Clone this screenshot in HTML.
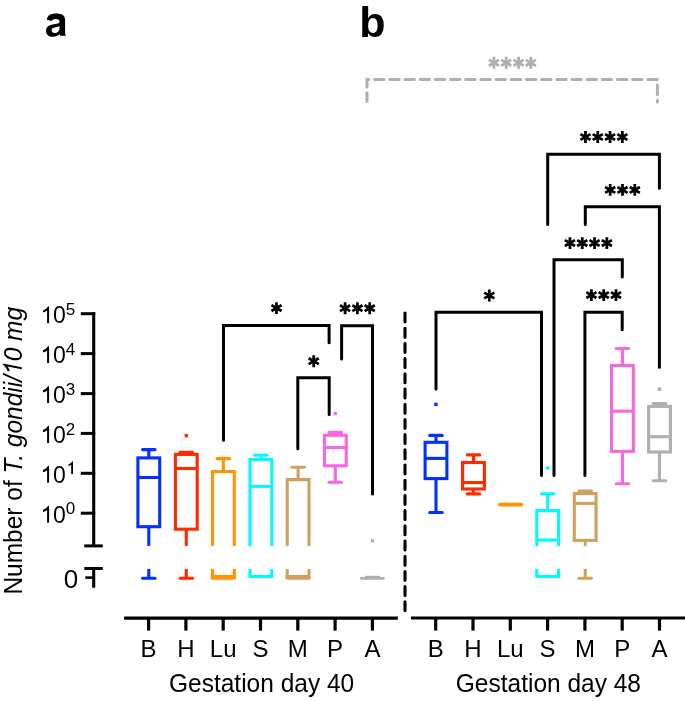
<!DOCTYPE html>
<html><head><meta charset="utf-8"><style>
html,body{margin:0;padding:0;background:#fff;}
svg{display:block;will-change:transform;font-family:"Liberation Sans",sans-serif;}
</style></head><body>
<svg width="685" height="701" viewBox="0 0 685 701">
<rect width="685" height="701" fill="#fff"/>
<line x1="93.7" y1="312.2" x2="93.7" y2="545.9" stroke="#000" stroke-width="3.1" stroke-linecap="butt"/>
<line x1="80.8" y1="313.7" x2="95.2" y2="313.7" stroke="#000" stroke-width="3.0" stroke-linecap="butt"/>
<line x1="80.8" y1="353.6" x2="95.2" y2="353.6" stroke="#000" stroke-width="3.0" stroke-linecap="butt"/>
<line x1="80.8" y1="393.6" x2="95.2" y2="393.6" stroke="#000" stroke-width="3.0" stroke-linecap="butt"/>
<line x1="80.8" y1="433.4" x2="95.2" y2="433.4" stroke="#000" stroke-width="3.0" stroke-linecap="butt"/>
<line x1="80.8" y1="473.3" x2="95.2" y2="473.3" stroke="#000" stroke-width="3.0" stroke-linecap="butt"/>
<line x1="80.8" y1="513.2" x2="95.2" y2="513.2" stroke="#000" stroke-width="3.0" stroke-linecap="butt"/>
<line x1="84.3" y1="545.9" x2="102.8" y2="545.9" stroke="#000" stroke-width="3.0" stroke-linecap="butt"/>
<line x1="84.3" y1="568.5" x2="102.8" y2="568.5" stroke="#000" stroke-width="3.0" stroke-linecap="butt"/>
<line x1="93.7" y1="568.5" x2="93.7" y2="587.7" stroke="#000" stroke-width="3.1" stroke-linecap="butt"/>
<line x1="85.3" y1="577.6" x2="93.7" y2="577.6" stroke="#000" stroke-width="2.6" stroke-linecap="butt"/>
<line x1="124.1" y1="618.1" x2="397.8" y2="618.1" stroke="#000" stroke-width="3.1" stroke-linecap="butt"/>
<line x1="411" y1="618.0" x2="685" y2="618.0" stroke="#000" stroke-width="3.1" stroke-linecap="butt"/>
<line x1="148.6" y1="618" x2="148.6" y2="630.6" stroke="#000" stroke-width="3.2" stroke-linecap="butt"/>
<line x1="185.9" y1="618" x2="185.9" y2="630.6" stroke="#000" stroke-width="3.2" stroke-linecap="butt"/>
<line x1="223.2" y1="618" x2="223.2" y2="630.6" stroke="#000" stroke-width="3.2" stroke-linecap="butt"/>
<line x1="260.5" y1="618" x2="260.5" y2="630.6" stroke="#000" stroke-width="3.2" stroke-linecap="butt"/>
<line x1="297.8" y1="618" x2="297.8" y2="630.6" stroke="#000" stroke-width="3.2" stroke-linecap="butt"/>
<line x1="335.1" y1="618" x2="335.1" y2="630.6" stroke="#000" stroke-width="3.2" stroke-linecap="butt"/>
<line x1="372.4" y1="618" x2="372.4" y2="630.6" stroke="#000" stroke-width="3.2" stroke-linecap="butt"/>
<line x1="435.7" y1="618" x2="435.7" y2="630.6" stroke="#000" stroke-width="3.2" stroke-linecap="butt"/>
<line x1="473.0" y1="618" x2="473.0" y2="630.6" stroke="#000" stroke-width="3.2" stroke-linecap="butt"/>
<line x1="510.3" y1="618" x2="510.3" y2="630.6" stroke="#000" stroke-width="3.2" stroke-linecap="butt"/>
<line x1="547.6" y1="618" x2="547.6" y2="630.6" stroke="#000" stroke-width="3.2" stroke-linecap="butt"/>
<line x1="584.9" y1="618" x2="584.9" y2="630.6" stroke="#000" stroke-width="3.2" stroke-linecap="butt"/>
<line x1="622.2" y1="618" x2="622.2" y2="630.6" stroke="#000" stroke-width="3.2" stroke-linecap="butt"/>
<line x1="659.5" y1="618" x2="659.5" y2="630.6" stroke="#000" stroke-width="3.2" stroke-linecap="butt"/>
<path d="M405,313.05 V610.6" fill="none" stroke="#000" stroke-width="3.1" stroke-dasharray="8.9 6.3" stroke-linecap="round"/>
<line x1="148.8" y1="449.6" x2="148.8" y2="457.9" stroke="#0430ff" stroke-width="3.1" stroke-linecap="butt"/>
<line x1="142.55" y1="449.6" x2="155.05" y2="449.6" stroke="#0430ff" stroke-width="3.1" stroke-linecap="round"/>
<rect x="137.9" y="457.9" width="21.80000000000001" height="68.80000000000007" fill="none" stroke="#0430ff" stroke-width="3.1"/>
<line x1="137.9" y1="477.5" x2="159.70000000000002" y2="477.5" stroke="#0430ff" stroke-width="3.1" stroke-linecap="butt"/>
<line x1="148.8" y1="526.7" x2="148.8" y2="545.9" stroke="#0430ff" stroke-width="3.1" stroke-linecap="butt"/>
<line x1="148.8" y1="568.9" x2="148.8" y2="578.3" stroke="#0430ff" stroke-width="3.1" stroke-linecap="butt"/>
<line x1="142.55" y1="578.3" x2="155.05" y2="578.3" stroke="#0430ff" stroke-width="3.1" stroke-linecap="round"/>
<line x1="186.3" y1="452.4" x2="186.3" y2="454.4" stroke="#ff2a00" stroke-width="3.1" stroke-linecap="butt"/>
<line x1="180.05" y1="452.4" x2="192.55" y2="452.4" stroke="#ff2a00" stroke-width="3.1" stroke-linecap="round"/>
<rect x="175.4" y="454.4" width="21.80000000000001" height="74.80000000000007" fill="none" stroke="#ff2a00" stroke-width="3.1"/>
<line x1="175.4" y1="468.5" x2="197.20000000000002" y2="468.5" stroke="#ff2a00" stroke-width="3.1" stroke-linecap="butt"/>
<line x1="186.3" y1="529.2" x2="186.3" y2="545.9" stroke="#ff2a00" stroke-width="3.1" stroke-linecap="butt"/>
<line x1="186.3" y1="568.9" x2="186.3" y2="578.3" stroke="#ff2a00" stroke-width="3.1" stroke-linecap="butt"/>
<line x1="180.05" y1="578.3" x2="192.55" y2="578.3" stroke="#ff2a00" stroke-width="3.1" stroke-linecap="round"/>
<rect x="184.60000000000002" y="434.0" width="3.4" height="3.4" fill="#ff2a00"/>
<line x1="223.4" y1="458.6" x2="223.4" y2="471.5" stroke="#ff9300" stroke-width="3.1" stroke-linecap="butt"/>
<line x1="217.15" y1="458.6" x2="229.65" y2="458.6" stroke="#ff9300" stroke-width="3.1" stroke-linecap="round"/>
<path d="M212.5,545.9 V471.5 H234.3 V545.9" fill="none" stroke="#ff9300" stroke-width="3.1" />
<path d="M212.5,568.9 V578.1500000000001" fill="none" stroke="#ff9300" stroke-width="3.1" />
<path d="M234.3,568.9 V578.1500000000001" fill="none" stroke="#ff9300" stroke-width="3.1" />
<rect x="210.95" y="575.0" width="24.900000000000013" height="4.7000000000000455" rx="1.3" fill="#ff9300"/>
<line x1="260.9" y1="455.1" x2="260.9" y2="459.5" stroke="#00fbff" stroke-width="3.1" stroke-linecap="butt"/>
<line x1="254.64999999999998" y1="455.1" x2="267.15" y2="455.1" stroke="#00fbff" stroke-width="3.1" stroke-linecap="round"/>
<path d="M249.99999999999997,545.9 V459.5 H271.79999999999995 V545.9" fill="none" stroke="#00fbff" stroke-width="3.1" />
<line x1="249.99999999999997" y1="486.4" x2="271.79999999999995" y2="486.4" stroke="#00fbff" stroke-width="3.1" stroke-linecap="butt"/>
<path d="M249.99999999999997,568.9 V576.45" fill="none" stroke="#00fbff" stroke-width="3.1" />
<path d="M271.79999999999995,568.9 V576.45" fill="none" stroke="#00fbff" stroke-width="3.1" />
<rect x="248.44999999999996" y="575.0" width="24.899999999999984" height="3.0" rx="1.3" fill="#00fbff"/>
<line x1="298.1" y1="467.2" x2="298.1" y2="479.6" stroke="#cfa05f" stroke-width="3.1" stroke-linecap="butt"/>
<line x1="291.85" y1="467.2" x2="304.35" y2="467.2" stroke="#cfa05f" stroke-width="3.1" stroke-linecap="round"/>
<path d="M287.20000000000005,545.9 V479.6 H309.0 V545.9" fill="none" stroke="#cfa05f" stroke-width="3.1" />
<path d="M287.20000000000005,568.9 V578.1500000000001" fill="none" stroke="#cfa05f" stroke-width="3.1" />
<path d="M309.0,568.9 V578.1500000000001" fill="none" stroke="#cfa05f" stroke-width="3.1" />
<rect x="285.65000000000003" y="575.0" width="24.899999999999956" height="4.7000000000000455" rx="1.3" fill="#cfa05f"/>
<line x1="335.35" y1="432.4" x2="335.35" y2="435.3" stroke="#f967e0" stroke-width="3.1" stroke-linecap="butt"/>
<line x1="329.1" y1="432.4" x2="341.6" y2="432.4" stroke="#f967e0" stroke-width="3.1" stroke-linecap="round"/>
<rect x="324.45000000000005" y="435.3" width="21.799999999999955" height="30.5" fill="none" stroke="#f967e0" stroke-width="3.1"/>
<line x1="324.45000000000005" y1="447.6" x2="346.25" y2="447.6" stroke="#f967e0" stroke-width="3.1" stroke-linecap="butt"/>
<line x1="335.35" y1="465.8" x2="335.35" y2="482.2" stroke="#f967e0" stroke-width="3.1" stroke-linecap="butt"/>
<line x1="329.1" y1="482.2" x2="341.6" y2="482.2" stroke="#f967e0" stroke-width="3.1" stroke-linecap="round"/>
<rect x="333.5" y="411.90000000000003" width="3.4" height="3.4" fill="#f967e0"/>
<line x1="361.5" y1="578.35" x2="383.4" y2="578.35" stroke="#afafb1" stroke-width="2.9" stroke-linecap="round"/>
<rect x="365.0" y="575.8" width="15" height="2.0" fill="#afafb1"/>
<rect x="371.0" y="539.1999999999999" width="3.2" height="3.2" fill="#afafb1"/>
<line x1="436.0" y1="435.4" x2="436.0" y2="442.3" stroke="#0430ff" stroke-width="3.1" stroke-linecap="butt"/>
<line x1="429.75" y1="435.4" x2="442.25" y2="435.4" stroke="#0430ff" stroke-width="3.1" stroke-linecap="round"/>
<rect x="425.1" y="442.3" width="21.799999999999955" height="36.30000000000001" fill="none" stroke="#0430ff" stroke-width="3.1"/>
<line x1="425.1" y1="458.4" x2="446.9" y2="458.4" stroke="#0430ff" stroke-width="3.1" stroke-linecap="butt"/>
<line x1="436.0" y1="478.6" x2="436.0" y2="512.5" stroke="#0430ff" stroke-width="3.1" stroke-linecap="butt"/>
<line x1="429.75" y1="512.5" x2="442.25" y2="512.5" stroke="#0430ff" stroke-width="3.1" stroke-linecap="round"/>
<rect x="434.2" y="402.7" width="3.4" height="3.4" fill="#0430ff"/>
<line x1="473.5" y1="454.9" x2="473.5" y2="462.5" stroke="#ff2a00" stroke-width="3.1" stroke-linecap="butt"/>
<line x1="467.25" y1="454.9" x2="479.75" y2="454.9" stroke="#ff2a00" stroke-width="3.1" stroke-linecap="round"/>
<rect x="462.6" y="462.5" width="21.799999999999955" height="26.5" fill="none" stroke="#ff2a00" stroke-width="3.1"/>
<line x1="462.6" y1="482.5" x2="484.4" y2="482.5" stroke="#ff2a00" stroke-width="3.1" stroke-linecap="butt"/>
<line x1="473.5" y1="489.0" x2="473.5" y2="493.9" stroke="#ff2a00" stroke-width="3.1" stroke-linecap="butt"/>
<line x1="467.25" y1="493.9" x2="479.75" y2="493.9" stroke="#ff2a00" stroke-width="3.1" stroke-linecap="round"/>
<line x1="499.8" y1="504.6" x2="521.3000000000001" y2="504.6" stroke="#ff9300" stroke-width="3.6" stroke-linecap="round"/>
<line x1="547.7" y1="493.9" x2="547.7" y2="510.6" stroke="#00fbff" stroke-width="3.1" stroke-linecap="butt"/>
<line x1="541.45" y1="493.9" x2="553.95" y2="493.9" stroke="#00fbff" stroke-width="3.1" stroke-linecap="round"/>
<path d="M536.8000000000001,545.9 V510.6 H558.6 V545.9" fill="none" stroke="#00fbff" stroke-width="3.1" />
<line x1="536.8000000000001" y1="540.1" x2="558.6" y2="540.1" stroke="#00fbff" stroke-width="3.1" stroke-linecap="butt"/>
<path d="M536.8000000000001,568.9 V576.45" fill="none" stroke="#00fbff" stroke-width="3.1" />
<path d="M558.6,568.9 V576.45" fill="none" stroke="#00fbff" stroke-width="3.1" />
<rect x="535.2500000000001" y="574.9" width="24.899999999999956" height="3.1000000000000227" rx="1.3" fill="#00fbff"/>
<rect x="545.9" y="466.3" width="3.4" height="3.4" fill="#00fbff"/>
<line x1="585.2" y1="491.0" x2="585.2" y2="493.6" stroke="#cfa05f" stroke-width="3.1" stroke-linecap="butt"/>
<line x1="578.95" y1="491.0" x2="591.45" y2="491.0" stroke="#cfa05f" stroke-width="3.1" stroke-linecap="round"/>
<rect x="574.3000000000001" y="493.6" width="21.799999999999955" height="46.799999999999955" fill="none" stroke="#cfa05f" stroke-width="3.1"/>
<line x1="574.3000000000001" y1="503.4" x2="596.1" y2="503.4" stroke="#cfa05f" stroke-width="3.1" stroke-linecap="butt"/>
<line x1="585.2" y1="540.4" x2="585.2" y2="545.9" stroke="#cfa05f" stroke-width="3.1" stroke-linecap="butt"/>
<line x1="585.2" y1="568.9" x2="585.2" y2="578.3" stroke="#cfa05f" stroke-width="3.1" stroke-linecap="butt"/>
<line x1="578.95" y1="578.3" x2="591.45" y2="578.3" stroke="#cfa05f" stroke-width="3.1" stroke-linecap="round"/>
<line x1="622.45" y1="348.5" x2="622.45" y2="365.5" stroke="#f967e0" stroke-width="3.1" stroke-linecap="butt"/>
<line x1="616.2" y1="348.5" x2="628.7" y2="348.5" stroke="#f967e0" stroke-width="3.1" stroke-linecap="round"/>
<rect x="611.5500000000001" y="365.5" width="21.799999999999955" height="85.89999999999998" fill="none" stroke="#f967e0" stroke-width="3.1"/>
<line x1="611.5500000000001" y1="411.2" x2="633.35" y2="411.2" stroke="#f967e0" stroke-width="3.1" stroke-linecap="butt"/>
<line x1="622.45" y1="451.4" x2="622.45" y2="483.7" stroke="#f967e0" stroke-width="3.1" stroke-linecap="butt"/>
<line x1="616.2" y1="483.7" x2="628.7" y2="483.7" stroke="#f967e0" stroke-width="3.1" stroke-linecap="round"/>
<line x1="659.5" y1="403.5" x2="659.5" y2="406.4" stroke="#afafb1" stroke-width="3.1" stroke-linecap="butt"/>
<line x1="653.25" y1="403.5" x2="665.75" y2="403.5" stroke="#afafb1" stroke-width="3.1" stroke-linecap="round"/>
<rect x="648.6" y="406.4" width="21.799999999999955" height="45.60000000000002" fill="none" stroke="#afafb1" stroke-width="3.1"/>
<line x1="648.6" y1="436.7" x2="670.4" y2="436.7" stroke="#afafb1" stroke-width="3.1" stroke-linecap="butt"/>
<line x1="659.5" y1="452.0" x2="659.5" y2="480.7" stroke="#afafb1" stroke-width="3.1" stroke-linecap="butt"/>
<line x1="653.25" y1="480.7" x2="665.75" y2="480.7" stroke="#afafb1" stroke-width="3.1" stroke-linecap="round"/>
<rect x="657.8" y="387.5" width="3.4" height="3.4" fill="#afafb1"/>
<path d="M223.5,440.2 V325.5 H329.1 V342.8" fill="none" stroke="#000" stroke-width="3.0" stroke-linecap="round" stroke-linejoin="miter"/>
<path d="M341.6,358.9 V325.7 H372.5 V493.9" fill="none" stroke="#000" stroke-width="3.0" stroke-linecap="round" stroke-linejoin="miter"/>
<path d="M297.8,448.8 V377.8 H329.2 V414.5" fill="none" stroke="#000" stroke-width="3.0" stroke-linecap="round" stroke-linejoin="miter"/>
<path d="M436,389 V312.2 H541.5 V475.6" fill="none" stroke="#000" stroke-width="3.0" stroke-linecap="round" stroke-linejoin="miter"/>
<path d="M547.7,224.5 V154.2 H659.4 V188.2" fill="none" stroke="#000" stroke-width="3.0" stroke-linecap="round" stroke-linejoin="miter"/>
<path d="M585.3,224.5 V206.8 H659.4 V367.3" fill="none" stroke="#000" stroke-width="3.0" stroke-linecap="round" stroke-linejoin="miter"/>
<path d="M554,475.6 V259.8 H622.3 V276.9" fill="none" stroke="#000" stroke-width="3.0" stroke-linecap="round" stroke-linejoin="miter"/>
<path d="M584.9,475.4 V312.2 H622.2 V329.7" fill="none" stroke="#000" stroke-width="3.0" stroke-linecap="round" stroke-linejoin="miter"/>
<path d="M367,101.6 V79.5 H657.4 V102" fill="none" stroke="#afafb1" stroke-width="3.0" stroke-dasharray="9.4 5.78" stroke-dashoffset="0.66" stroke-linecap="round"/>
<path d="M276.50,302.15 V314.05 M271.43,305.18 L281.57,311.03 M271.43,311.03 L281.57,305.18" stroke="#000" stroke-width="2.75" fill="none"/>
<path d="M345.10,302.25 V314.15 M340.03,305.27 L350.17,311.12 M340.03,311.12 L350.17,305.27" stroke="#000" stroke-width="2.75" fill="none"/>
<path d="M357.40,302.25 V314.15 M352.33,305.27 L362.47,311.12 M352.33,311.12 L362.47,305.27" stroke="#000" stroke-width="2.75" fill="none"/>
<path d="M369.70,302.25 V314.15 M364.63,305.27 L374.77,311.12 M364.63,311.12 L374.77,305.27" stroke="#000" stroke-width="2.75" fill="none"/>
<path d="M313.70,355.25 V367.15 M308.63,358.27 L318.77,364.12 M308.63,364.12 L318.77,358.27" stroke="#000" stroke-width="2.75" fill="none"/>
<path d="M489.30,289.55 V301.45 M484.23,292.57 L494.37,298.43 M484.23,298.43 L494.37,292.57" stroke="#000" stroke-width="2.75" fill="none"/>
<path d="M585.45,131.05 V142.95 M580.38,134.07 L590.52,139.93 M580.38,139.93 L590.52,134.07" stroke="#000" stroke-width="2.75" fill="none"/>
<path d="M597.75,131.05 V142.95 M592.68,134.07 L602.82,139.93 M592.68,139.93 L602.82,134.07" stroke="#000" stroke-width="2.75" fill="none"/>
<path d="M610.05,131.05 V142.95 M604.98,134.07 L615.12,139.93 M604.98,139.93 L615.12,134.07" stroke="#000" stroke-width="2.75" fill="none"/>
<path d="M622.35,131.05 V142.95 M617.28,134.07 L627.42,139.93 M617.28,139.93 L627.42,134.07" stroke="#000" stroke-width="2.75" fill="none"/>
<path d="M610.20,183.95 V195.85 M605.13,186.97 L615.27,192.83 M605.13,192.83 L615.27,186.97" stroke="#000" stroke-width="2.75" fill="none"/>
<path d="M622.50,183.95 V195.85 M617.43,186.97 L627.57,192.83 M617.43,192.83 L627.57,186.97" stroke="#000" stroke-width="2.75" fill="none"/>
<path d="M634.80,183.95 V195.85 M629.73,186.97 L639.87,192.83 M629.73,192.83 L639.87,186.97" stroke="#000" stroke-width="2.75" fill="none"/>
<path d="M569.95,237.15 V249.05 M564.88,240.17 L575.02,246.03 M564.88,246.03 L575.02,240.17" stroke="#000" stroke-width="2.75" fill="none"/>
<path d="M582.25,237.15 V249.05 M577.18,240.17 L587.32,246.03 M577.18,246.03 L587.32,240.17" stroke="#000" stroke-width="2.75" fill="none"/>
<path d="M594.55,237.15 V249.05 M589.48,240.17 L599.62,246.03 M589.48,246.03 L599.62,240.17" stroke="#000" stroke-width="2.75" fill="none"/>
<path d="M606.85,237.15 V249.05 M601.78,240.17 L611.92,246.03 M601.78,246.03 L611.92,240.17" stroke="#000" stroke-width="2.75" fill="none"/>
<path d="M591.40,289.15 V301.05 M586.33,292.18 L596.47,298.03 M586.33,298.03 L596.47,292.18" stroke="#000" stroke-width="2.75" fill="none"/>
<path d="M603.70,289.15 V301.05 M598.63,292.18 L608.77,298.03 M598.63,298.03 L608.77,292.18" stroke="#000" stroke-width="2.75" fill="none"/>
<path d="M616.00,289.15 V301.05 M610.93,292.18 L621.07,298.03 M610.93,298.03 L621.07,292.18" stroke="#000" stroke-width="2.75" fill="none"/>
<path d="M493.95,56.85 V68.75 M488.88,59.88 L499.02,65.72 M488.88,65.72 L499.02,59.88" stroke="#afafb1" stroke-width="2.75" fill="none"/>
<path d="M506.25,56.85 V68.75 M501.18,59.88 L511.32,65.72 M501.18,65.72 L511.32,59.88" stroke="#afafb1" stroke-width="2.75" fill="none"/>
<path d="M518.55,56.85 V68.75 M513.48,59.88 L523.62,65.72 M513.48,65.72 L523.62,59.88" stroke="#afafb1" stroke-width="2.75" fill="none"/>
<path d="M530.85,56.85 V68.75 M525.78,59.88 L535.92,65.72 M525.78,65.72 L535.92,59.88" stroke="#afafb1" stroke-width="2.75" fill="none"/>
<path fill="#000" fill-rule="evenodd" d="M46.9,19.8 C47.3,15.6 50.6,13.6 56.0,13.6 C61.8,13.6 65.1,15.6 65.1,19.9 L65.1,32.2 C65.1,33.9 65.4,35.0 66.1,35.8 L60.3,35.8 C60.0,35.3 59.8,34.7 59.8,34.0 C58.2,35.8 55.8,36.7 53.0,36.7 C48.8,36.7 46.0,34.4 46.0,30.9 C46.0,26.4 49.3,24.8 54.0,24.2 C57.6,23.7 59.5,23.3 59.5,21.7 C59.5,20.0 58.2,19.1 56.0,19.1 C53.5,19.1 52.0,19.9 51.7,21.1 Z M59.5,26.1 C58.6,26.7 57.2,27.0 55.6,27.3 C53.0,27.7 51.6,28.5 51.6,30.3 C51.6,31.9 52.8,32.9 54.6,32.9 C57.5,32.9 59.5,31.1 59.5,28.4 Z"/>
<text transform="translate(359.2,36.9) scale(1.025,1)" font-size="42" font-weight="bold">b</text>
<path d="M49.10,306.40 L49.10,323.20 L47.10,323.20 L47.10,310.60 C46.00,311.60 44.60,312.30 43.00,312.60 L43.00,310.40 C45.00,309.70 46.80,308.20 48.00,306.40 Z" fill="#000"/>
<text x="53.09" y="323.3" font-size="23" font-weight="normal" font-style="normal" text-anchor="start" >0</text>
<text x="65.8" y="314.8" font-size="17" font-weight="normal" font-style="normal" text-anchor="start" >5</text>
<path d="M49.10,346.30 L49.10,363.10 L47.10,363.10 L47.10,350.50 C46.00,351.50 44.60,352.20 43.00,352.50 L43.00,350.30 C45.00,349.60 46.80,348.10 48.00,346.30 Z" fill="#000"/>
<text x="53.09" y="363.20000000000005" font-size="23" font-weight="normal" font-style="normal" text-anchor="start" >0</text>
<text x="65.8" y="354.70000000000005" font-size="17" font-weight="normal" font-style="normal" text-anchor="start" >4</text>
<path d="M49.10,386.30 L49.10,403.10 L47.10,403.10 L47.10,390.50 C46.00,391.50 44.60,392.20 43.00,392.50 L43.00,390.30 C45.00,389.60 46.80,388.10 48.00,386.30 Z" fill="#000"/>
<text x="53.09" y="403.20000000000005" font-size="23" font-weight="normal" font-style="normal" text-anchor="start" >0</text>
<text x="65.8" y="394.70000000000005" font-size="17" font-weight="normal" font-style="normal" text-anchor="start" >3</text>
<path d="M49.10,426.10 L49.10,442.90 L47.10,442.90 L47.10,430.30 C46.00,431.30 44.60,432.00 43.00,432.30 L43.00,430.10 C45.00,429.40 46.80,427.90 48.00,426.10 Z" fill="#000"/>
<text x="53.09" y="443.0" font-size="23" font-weight="normal" font-style="normal" text-anchor="start" >0</text>
<text x="65.8" y="434.5" font-size="17" font-weight="normal" font-style="normal" text-anchor="start" >2</text>
<path d="M49.10,466.00 L49.10,482.80 L47.10,482.80 L47.10,470.20 C46.00,471.20 44.60,471.90 43.00,472.20 L43.00,470.00 C45.00,469.30 46.80,467.80 48.00,466.00 Z" fill="#000"/>
<text x="53.09" y="482.90000000000003" font-size="23" font-weight="normal" font-style="normal" text-anchor="start" >0</text>
<path d="M73.00,461.40 L73.00,474.00 L71.20,474.00 L71.20,464.55 C70.67,465.30 69.62,465.82 68.42,466.05 L68.42,464.40 C69.92,463.88 71.28,462.75 72.17,461.40 Z" fill="#000"/>
<path d="M49.10,505.90 L49.10,522.70 L47.10,522.70 L47.10,510.10 C46.00,511.10 44.60,511.80 43.00,512.10 L43.00,509.90 C45.00,509.20 46.80,507.70 48.00,505.90 Z" fill="#000"/>
<text x="53.09" y="522.8000000000001" font-size="23" font-weight="normal" font-style="normal" text-anchor="start" >0</text>
<text x="65.8" y="514.3000000000001" font-size="17" font-weight="normal" font-style="normal" text-anchor="start" >0</text>
<text x="63.8" y="587.9" font-size="26" font-weight="normal" font-style="normal" text-anchor="start" >0</text>
<text x="148.6" y="656.5" font-size="24" font-weight="normal" font-style="normal" text-anchor="middle" >B</text>
<text x="185.9" y="656.5" font-size="24" font-weight="normal" font-style="normal" text-anchor="middle" >H</text>
<text x="223.2" y="656.5" font-size="24" font-weight="normal" font-style="normal" text-anchor="middle" >Lu</text>
<text x="260.5" y="656.5" font-size="24" font-weight="normal" font-style="normal" text-anchor="middle" >S</text>
<text x="297.8" y="656.5" font-size="24" font-weight="normal" font-style="normal" text-anchor="middle" >M</text>
<text x="335.1" y="656.5" font-size="24" font-weight="normal" font-style="normal" text-anchor="middle" >P</text>
<text x="372.4" y="656.5" font-size="24" font-weight="normal" font-style="normal" text-anchor="middle" >A</text>
<text x="435.7" y="656.5" font-size="24" font-weight="normal" font-style="normal" text-anchor="middle" >B</text>
<text x="473.0" y="656.5" font-size="24" font-weight="normal" font-style="normal" text-anchor="middle" >H</text>
<text x="510.3" y="656.5" font-size="24" font-weight="normal" font-style="normal" text-anchor="middle" >Lu</text>
<text x="547.6" y="656.5" font-size="24" font-weight="normal" font-style="normal" text-anchor="middle" >S</text>
<text x="584.9" y="656.5" font-size="24" font-weight="normal" font-style="normal" text-anchor="middle" >M</text>
<text x="622.2" y="656.5" font-size="24" font-weight="normal" font-style="normal" text-anchor="middle" >P</text>
<text x="659.5" y="656.5" font-size="24" font-weight="normal" font-style="normal" text-anchor="middle" >A</text>
<text transform="translate(261.6,692.3) scale(0.9423,1)" font-size="26.0" text-anchor="middle">Gestation day 40</text>
<text transform="translate(548.4,692.3) scale(0.9423,1)" font-size="26.0" text-anchor="middle">Gestation day 48</text>
<g transform="translate(21.8,594.6) rotate(-90) scale(0.9423,1)">
<text x="0" y="0" font-size="26.0">Number of <tspan font-style="italic">T. gondii/<tspan fill="transparent">1</tspan>0 mg</tspan></text>
<g transform="translate(241.32,0) skewX(-12)">
<path d="M0.00,-18.99 L0.00,0.00 L-2.26,0.00 L-2.26,-14.24 C-3.50,-13.11 -5.09,-12.32 -6.90,-11.98 L-6.90,-14.47 C-4.63,-15.26 -2.60,-16.96 -1.24,-18.99 Z" fill="#000"/>
</g></g>
</svg>
</body></html>
